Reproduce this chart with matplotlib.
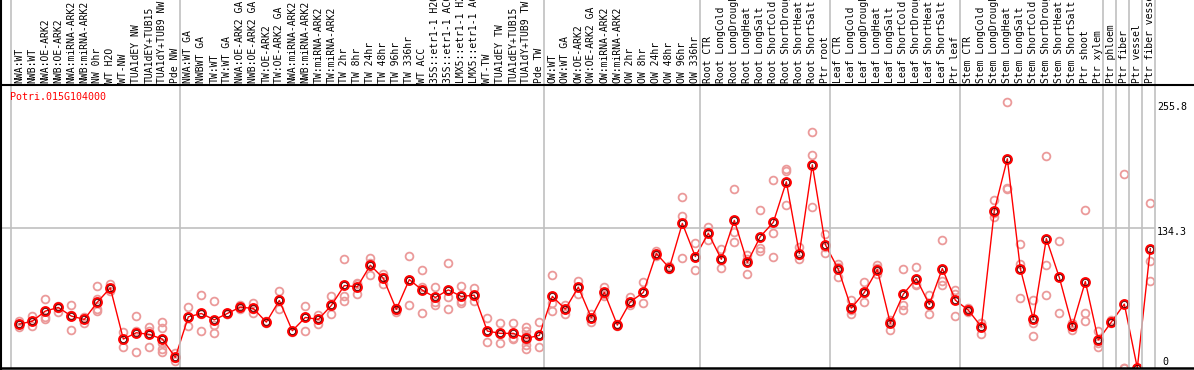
import matplotlib
matplotlib.use("Agg")
import matplotlib.pyplot as plt
from matplotlib.lines import Line2D
from matplotlib.transforms import blended_transform_factory

gene = "Potri.015G104000"

labels = [
    "NWA:WT", "NWB:WT", "NWA:OE-ARK2", "NWB:OE-ARK2", "NWA:miRNA-ARK2", "NWB:miRNA-ARK2",
    "NW 0hr", "WT H2O", "WT-NW", "TUA1dEY NW", "TUA1dEY+TUB15", "TUA1dY+TUB9 NW", "Pde NW",
    "NWA:WT GA", "NWBWT GA", "TW:WT", "TW:WT GA", "NWA:OE-ARK2 GA", "NWB:OE-ARK2 GA",
    "TW:OE-ARK2", "TW:OE-ARK2 GA", "NWA:miRNA-ARK2", "NWB:miRNA-ARK2", "TW:miRNA-ARK2",
    "TW:miRNA-ARK2", "TW 2hr", "TW 8hr", "TW 24hr", "TW 48hr", "TW 96hr", "TW 336hr",
    "WT ACC", "35S::etr1-1 H2O", "35S::etr1-1 ACC", "LMX5::etr1-1 H2O", "LMX5::etr1-1 ACC",
    "WT-TW", "TUA1dEY TW", "TUA1dEY+TUB15", "TUA1dY+TUB9 TW", "Pde TW",
    "OW:WT", "OW:WT GA", "OW:OE-ARK2", "OW:OE-ARK2 GA", "OW:miRNA-ARK2", "OW:miRNA-ARK2",
    "OW 2hr", "OW 8hr", "OW 24hr", "OW 48hr", "OW 96hr", "OW 336hr",
    "Root CTR", "Root LongCold", "Root LongDrought", "Root LongHeat", "Root LongSalt",
    "Root ShortCold", "Root ShortDrought", "Root ShortHeat", "Root ShortSalt", "Ptr root",
    "Leaf CTR", "Leaf LongCold", "Leaf LongDrought", "Leaf LongHeat", "Leaf LongSalt",
    "Leaf ShortCold", "Leaf ShortDrought", "Leaf ShortHeat", "Leaf ShortSalt", "Ptr leaf",
    "Stem CTR", "Stem LongCold", "Stem LongDrought", "Stem LongHeat", "Stem LongSalt",
    "Stem ShortCold", "Stem ShortDrought", "Stem ShortHeat", "Stem ShortSalt", "Ptr shoot",
    "Ptr xylem", "Ptr phloem", "Ptr fiber", "Ptr vessel", "Ptr fiber vessel",
]

means = [
    42.2, 45, 54.7, 58.2, 49.9, 46.7, 63.3, 77, 27.8, 33.9, 32.3, 27.8, 10.2,
    49.2, 52.4, 46.3, 52.4, 58.5, 57.2, 44.1, 64.9, 35.8, 48.6, 46.7, 60.1, 79.3, 78,
    98.8, 86.3, 56.3, 85, 74.8, 67.8, 75.1, 68.8, 70, 35.5, 33.3, 33.3, 28.5, 31.4,
    68.8, 56.6, 77.7, 48.2, 72.6, 41.2, 63.6, 72.6, 110, 96.2, 139, 107.1,
    129.5, 104.5, 141.9, 101.4, 126.3, 140, 179, 110, 195.3, 118.6,
    94.9, 57.5, 72.6, 94.6, 42.9, 71, 86, 61.1, 95.6, 65.2,
    55.6, 39.6, 151.3, 201.1, 95.6, 46.7, 124.4, 87, 40.3, 83.1, 26.9,
    44.1, 61.4, 0, 114.8,
]

replicates = [
    [45, 39, 42], [50, 40, 45], [66, 49, 47], [60, 58, 54], [61, 37, 51], [49, 43, 48],
    [79, 66, 57, 55], [81, 77, 74], [35, 28, 20], [50, 36, 15], [39, 36, 20],
    [44, 38, 28, 24, 18, 15], [14, 10, 7],
    [59, 49, 40], [70, 52, 36], [64, 41, 34], [53, 52, 52], [61, 58, 57], [62, 57, 53],
    [45, 44, 43], [74, 65, 57], [36, 36, 35], [60, 49, 36], [51, 47, 42], [69, 60, 52],
    [105, 69, 64], [81, 82, 71], [106, 101, 89], [90, 87, 81], [58, 56, 54],
    [108, 85, 61], [94, 78, 53], [78, 63, 61], [101, 68, 57], [79, 64, 62], [77, 69, 64],
    [48, 35, 25], [43, 33, 24], [43, 29, 28], [39, 36, 31, 27, 22, 18], [44, 31, 20],
    [89, 62, 55], [61, 57, 52], [84, 78, 71], [52, 48, 44], [78, 71, 69], [42, 41, 40],
    [68, 63, 61], [83, 73, 62], [112, 110, 108], [98, 96, 95], [164, 146, 106],
    [120, 107, 94],
    [136, 130, 123], [114, 104, 96], [172, 131, 121], [109, 105, 90], [152, 115, 112],
    [181, 130, 107], [191, 189, 157], [116, 109, 105], [227, 205, 155], [129, 116, 111],
    [100, 97, 87], [65, 56, 52], [83, 72, 63], [99, 96, 90], [46, 45, 37], [95, 61, 56],
    [97, 81, 80], [70, 61, 52], [123, 84, 80], [75, 71, 50],
    [58, 55, 54], [43, 43, 33], [161, 149, 145], [255.8, 173, 172], [119, 100, 67],
    [65, 43, 31], [204, 99, 70], [122, 87, 53], [43, 41, 37], [152, 53, 45], [36, 24, 20],
    [46, 44, 43], [186, 0, 0], [0, 0, 0], [159, 103, 84],
]

group_starts = [0, 13, 41, 53, 63, 73, 84, 85, 86, 87, 88]
ref_value = 134.3
ymax_label = 255.8

W, H = 1194, 370
fig = plt.figure(figsize=(W / 100, H / 100), dpi=100)
fig.patch.set_facecolor("white")

ax_left, ax_right = 1, 1155
ax_top, ax_bottom = 85, 368
ax = fig.add_axes([ax_left / W, 1 - ax_bottom / H, (ax_right - ax_left) / W,
                   (ax_bottom - ax_top) / H])
for s in ax.spines.values():
    s.set_visible(False)
ax.set_xticks([])
ax.set_yticks([])
ax.set_facecolor("none")

x = list(range(len(labels)))
ax.set_xlim(-1.41, 87.36)
ax.set_ylim(0, 272)

gray = "#c0c0c0"
# horizontal reference line
ax.axhline(ref_value, color=gray, lw=1.2, zorder=1)

# vertical group separators spanning the full figure height
for g in group_starts:
    xv = g - 0.66
    fx = ax.transData.transform((xv, 0))[0] / W
    fig.add_artist(Line2D([fx, fx], [1 - ax_bottom / H, 1], color=gray, lw=1.2, zorder=1))

# black frame lines
fig.add_artist(Line2D([0, 1], [1 - ax_top / H, 1 - ax_top / H], color="black", lw=1.5))
fig.add_artist(Line2D([0, 1], [1 - ax_bottom / H, 1 - ax_bottom / H], color="black", lw=1.8))
fig.add_artist(Line2D([1.2 / W, 1.2 / W], [0, 1], color="black", lw=1.5))

# replicates
for xi, reps in zip(x, replicates):
    ax.plot([xi] * len(reps), reps, linestyle="none", marker="o", markersize=5.6,
            markerfacecolor="none", markeredgecolor="#eb9a9a", markeredgewidth=1.3,
            zorder=2)

# mean line
ax.plot(x, means, color="#ff0000", lw=1.0, zorder=3)
ax.plot(x, means, linestyle="none", marker="o", markersize=6.2, markerfacecolor="none",
        markeredgecolor="#ff0000", markeredgewidth=1.6, zorder=4)
ax.plot(x, means, linestyle="none", marker="o", markersize=4.4, markerfacecolor="none",
        markeredgecolor="#400000", markeredgewidth=0.55, zorder=5)

# rotated labels
trans = blended_transform_factory(ax.transData, fig.transFigure)
for xi, lab in zip(x, labels):
    ax.text(xi, 1 - 83 / H, lab, rotation=90, ha="center", va="bottom",
            family="DejaVu Sans Mono", fontsize=7, color="black",
            transform=trans, clip_on=False)

# gene name
fig.text(10 / W, 1 - 97 / H, gene, ha="left", va="center", family="DejaVu Sans Mono",
         fontsize=7.2, color="#ff0000")

# right axis labels
fig.text(1157 / W, 1 - 107 / H, f"{ymax_label}", ha="left", va="center",
         family="DejaVu Sans Mono", fontsize=7.2, color="black")
fig.text(1157 / W, 1 - 232 / H, f"{ref_value}", ha="left", va="center",
         family="DejaVu Sans Mono", fontsize=7.2, color="black")
fig.text(1162 / W, 1 - 362 / H, "0", ha="left", va="center",
         family="DejaVu Sans Mono", fontsize=7.2, color="black")

fig.savefig("out.png", dpi=100, facecolor="white")
